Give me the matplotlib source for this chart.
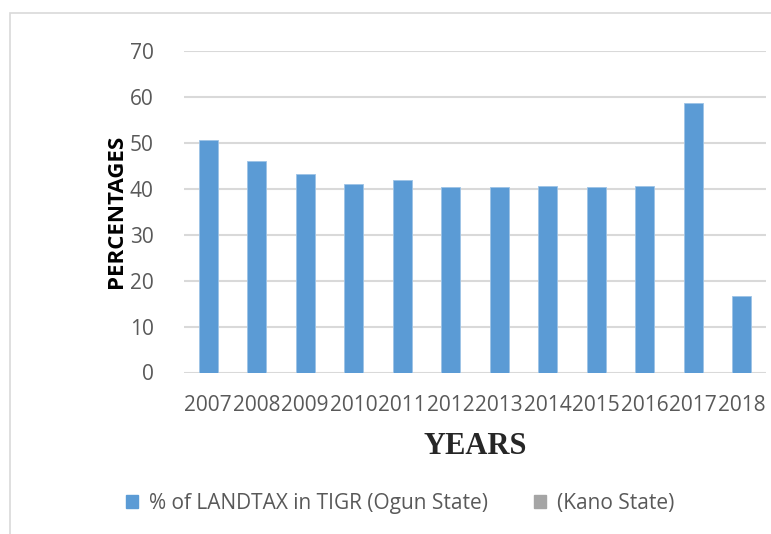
import matplotlib.pyplot as plt
from matplotlib.patches import Rectangle, Patch

years = ["2007", "2008", "2009", "2010", "2011", "2012",
         "2013", "2014", "2015", "2016", "2017", "2018"]
ogun = [50.5, 46.1, 43.2, 40.9, 41.9, 40.3, 40.3, 40.5, 40.3, 40.6, 58.7, 16.6]
kano = []  # no values shown for Kano State

blue = "#5B9BD5"
grey = "#A5A5A5"
txt = "#595959"

plt.rcParams['font.family'] = ['Open Sans', 'DejaVu Sans']

fig = plt.figure(figsize=(7.71, 5.34), dpi=100)
ax = fig.add_axes([184/771, 1 - 372.5/534, 582/771, (372.5 - 50.7)/534])

# outer chart border
fig.patches.append(Rectangle((10/771, -0.1), 1.2, 1 - 13/534 + 0.1,
                             transform=fig.transFigure, fill=False,
                             edgecolor="#D9D9D9", linewidth=1.2))

x = range(len(years))
ax.bar(x, ogun, width=0.4, color=blue, edgecolor="#9DC3E6", linewidth=0.6, zorder=3)

ax.set_xlim(-0.5, len(years) - 0.5)
ax.set_ylim(0, 70)
ax.set_yticks(range(0, 71, 10))
ax.set_xticks(list(x))
ax.set_xticklabels(years)
ax.yaxis.grid(True, color="#D9D9D9", linewidth=1.5, zorder=0)
ax.set_axisbelow(True)
for s in ax.spines.values():
    s.set_visible(False)
ax.tick_params(axis='both', length=0, labelsize=15, colors=txt)
ax.tick_params(axis='y', pad=22)
ax.tick_params(axis='x', pad=16)

ax.set_ylabel("PERCENTAGES", fontsize=16, fontweight='bold', color="#000000", labelpad=2)
ax.set_xlabel("YEARS", fontsize=22, fontweight='bold', family='Liberation Serif',
              color="#262626", labelpad=12)

handles = [Patch(color=blue, label="% of LANDTAX in TIGR (Ogun State)"),
           Patch(color=grey, label="(Kano State)")]
fig.legend(handles=handles, loc='center', bbox_to_anchor=(400/771, 1 - 503/534),
           ncol=2, frameon=False, fontsize=15, labelcolor=txt,
           handlelength=0.6, handleheight=0.6, handletextpad=0.5, columnspacing=2.2)

plt.savefig("out.png", dpi=100)
